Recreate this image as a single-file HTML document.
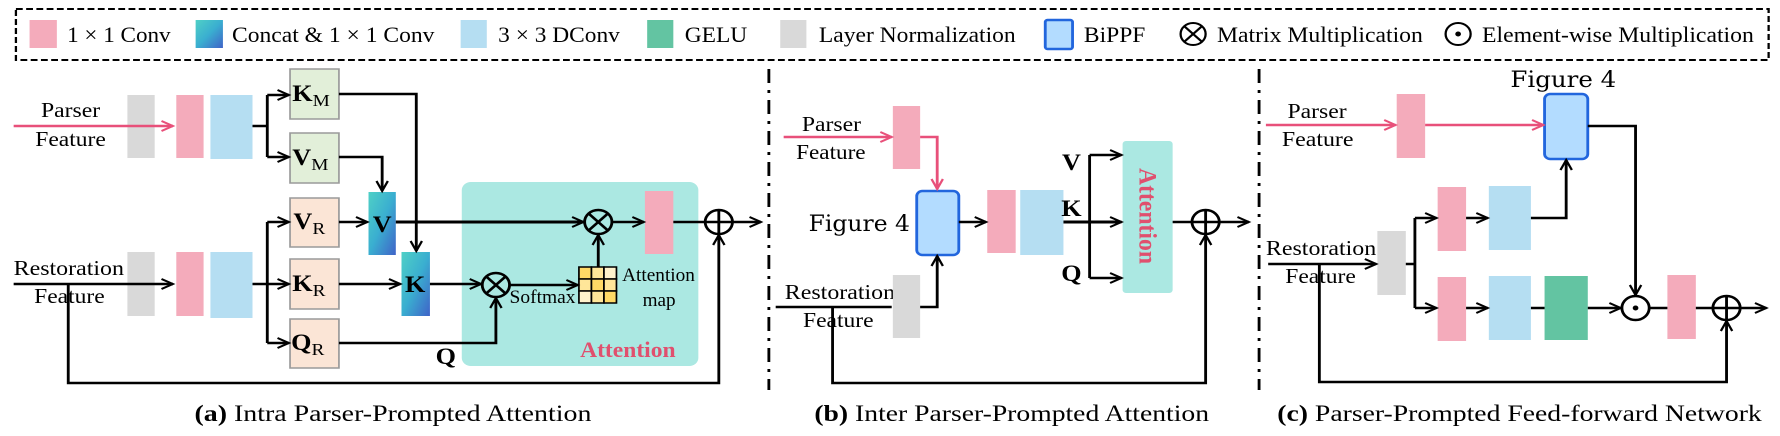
<!DOCTYPE html>
<html><head><meta charset="utf-8"><style>
html,body{margin:0;padding:0;background:#fff;}
svg{display:block;}
text{font-family:"Liberation Serif","Times New Roman",serif;fill:#000;}
</style></head><body>
<svg width="1780" height="436" viewBox="0 0 1565 436" preserveAspectRatio="none" xmlns="http://www.w3.org/2000/svg" font-family="Liberation Serif, serif">
<defs>
<marker id="a" markerUnits="userSpaceOnUse" markerWidth="14" markerHeight="14" refX="11" refY="6" orient="auto"><path d="M1,1 L11,6 L1,11" fill="none" stroke="#000" stroke-width="2"/></marker>
<marker id="p" markerUnits="userSpaceOnUse" markerWidth="14" markerHeight="14" refX="11" refY="6" orient="auto"><path d="M1,1 L11,6 L1,11" fill="none" stroke="#e8507a" stroke-width="2"/></marker>
<linearGradient id="g" x1="0" y1="0" x2="1" y2="1"><stop offset="0" stop-color="#4fd0c6"/><stop offset="0.5" stop-color="#3aaed0"/><stop offset="1" stop-color="#3f63c8"/></linearGradient>
</defs>
<rect x="14" y="9" width="1541" height="51" fill="none" stroke="#000" stroke-width="2" stroke-dasharray="6 3"/>
<!-- legend -->
<g font-size="22" lengthAdjust="spacingAndGlyphs">
<rect x="26" y="20" width="24" height="28" fill="#f4abbb"/>
<text x="59" y="42" font-size="22" textLength="91" lengthAdjust="spacingAndGlyphs">1 × 1 Conv</text>
<rect x="172" y="20" width="24" height="28" fill="url(#g)"/>
<text x="204" y="42" font-size="22" textLength="178" lengthAdjust="spacingAndGlyphs">Concat &amp; 1 × 1 Conv</text>
<rect x="405" y="20" width="23" height="28" fill="#b5def2"/>
<text x="438" y="42" font-size="22" textLength="107" lengthAdjust="spacingAndGlyphs">3 × 3 DConv</text>
<rect x="569" y="20" width="23" height="28" fill="#63c4a2"/>
<text x="602" y="42" font-size="22" textLength="55" lengthAdjust="spacingAndGlyphs">GELU</text>
<rect x="686" y="20" width="23" height="28" fill="#d9d9d9"/>
<text x="720" y="42" font-size="22" textLength="173" lengthAdjust="spacingAndGlyphs">Layer Normalization</text>
<rect x="919" y="20" width="24" height="29" rx="2" fill="#b3dcff" stroke="#2266dd" stroke-width="2.5"/>
<text x="953" y="42" font-size="22" textLength="54" lengthAdjust="spacingAndGlyphs">BiPPF</text>
<text x="1070" y="42" font-size="22" textLength="181" lengthAdjust="spacingAndGlyphs">Matrix Multiplication</text>
<text x="1303" y="42" font-size="22" textLength="239" lengthAdjust="spacingAndGlyphs">Element-wise Multiplication</text>
</g>
<g stroke="#000" stroke-width="2" fill="none"><circle cx="1049" cy="34" r="11"/><path d="M1041,26 L1057,42 M1057,26 L1041,42"/></g>
<g stroke="#000" stroke-width="2" fill="none"><circle cx="1282" cy="34" r="11"/></g><circle cx="1282" cy="34" r="2.5" fill="#000"/>

<!-- dividers -->
<g stroke="#000" stroke-width="2.5" stroke-dasharray="14 7 3 7"><path d="M676,69 V390 M1107,69 V390"/></g>

<!-- Panel a -->
<rect x="406" y="182" width="208" height="184" rx="8" fill="#abe8e2"/>
<g font-size="21">
<text x="36" y="117" font-size="21" textLength="52" lengthAdjust="spacingAndGlyphs">Parser</text>
<text x="31" y="146" font-size="21" textLength="62" lengthAdjust="spacingAndGlyphs">Feature</text>
<text x="12" y="275" font-size="21" textLength="97" lengthAdjust="spacingAndGlyphs">Restoration</text>
<text x="30" y="303" font-size="21" textLength="62" lengthAdjust="spacingAndGlyphs">Feature</text>
</g>
<rect x="112" y="95" width="24" height="63" fill="#d9d9d9"/>
<rect x="155" y="95" width="24" height="63" fill="#f4abbb"/>
<rect x="185" y="95" width="37" height="64" fill="#b5def2"/>
<rect x="112" y="252" width="24" height="64" fill="#d9d9d9"/>
<rect x="155" y="252" width="24" height="64" fill="#f4abbb"/>
<rect x="185" y="252" width="37" height="66" fill="#b5def2"/>
<g stroke="#9a9a9a" stroke-width="1.5">
<rect x="255" y="69" width="43" height="50" fill="#e2efd9"/>
<rect x="255" y="133" width="43" height="50" fill="#e2efd9"/>
<rect x="255" y="198" width="43" height="49" fill="#fbe5d6"/>
<rect x="255" y="259" width="43" height="50" fill="#fbe5d6"/>
<rect x="255" y="319" width="43" height="49" fill="#fbe5d6"/>
</g>
<g font-size="23" font-weight="bold">
<text x="257" y="101">K<tspan font-size="17" font-weight="normal" dy="5">M</tspan></text>
<text x="257" y="165">V<tspan font-size="17" font-weight="normal" dy="5">M</tspan></text>
<text x="258" y="229">V<tspan font-size="17" font-weight="normal" dy="5">R</tspan></text>
<text x="257" y="291">K<tspan font-size="17" font-weight="normal" dy="5">R</tspan></text>
<text x="256" y="350">Q<tspan font-size="17" font-weight="normal" dy="5">R</tspan></text>
</g>
<rect x="324" y="192" width="24" height="63" fill="url(#g)"/>
<rect x="353" y="252" width="25" height="64" fill="url(#g)"/>
<text x="336" y="232" font-size="23" font-weight="bold" text-anchor="middle">V</text>
<text x="365" y="292" font-size="23" font-weight="bold" text-anchor="middle">K</text>
<rect x="567" y="191" width="25" height="63" fill="#f4abbb"/>
<g fill="#ffd966" stroke="#000" stroke-width="1.5">
<rect x="509" y="267" width="11" height="12"/><rect x="520" y="267" width="11" height="12" fill="#ffe699"/><rect x="531" y="267" width="11" height="12" fill="#fff2cc"/>
<rect x="509" y="279" width="11" height="12" fill="#ffe699"/><rect x="520" y="279" width="11" height="12"/><rect x="531" y="279" width="11" height="12" fill="#ffe699"/>
<rect x="509" y="291" width="11" height="12" fill="#fff2cc"/><rect x="520" y="291" width="11" height="12" fill="#ffe699"/><rect x="531" y="291" width="11" height="12"/>
</g>
<g stroke="#e8507a" stroke-width="2.5" fill="none"><path d="M12,126 H152" marker-end="url(#p)"/></g>
<g stroke="#000" stroke-width="2.5" fill="none">
<path d="M12,284 H152" marker-end="url(#a)"/>
<path d="M222,126 H235"/><path d="M235,95 V157"/>
<path d="M235,95 H254" marker-end="url(#a)"/><path d="M235,157 H254" marker-end="url(#a)"/>
<path d="M222,284 H235"/><path d="M235,222 V343"/>
<path d="M235,222 H254" marker-end="url(#a)"/><path d="M235,284 H254" marker-end="url(#a)"/><path d="M235,343 H254" marker-end="url(#a)"/>
<path d="M298,94 H366 V251" marker-end="url(#a)"/>
<path d="M298,157 H336 V191" marker-end="url(#a)"/>
<path d="M298,222 H323" marker-end="url(#a)"/>
<path d="M298,284 H352" marker-end="url(#a)"/>
<path d="M378,284 H423" marker-end="url(#a)"/>
<path d="M298,343 H436 V298" marker-end="url(#a)"/>
<path d="M348,222 H513" stroke-width="3" marker-end="url(#a)"/>
<path d="M448,285 H508" marker-end="url(#a)"/>
<path d="M526,267 V235" marker-end="url(#a)"/>
<path d="M538,222 H566" marker-end="url(#a)"/>
<path d="M592,222 H620"/>
<path d="M644,222 H669" marker-end="url(#a)"/>
<path d="M60,284 V383 H632 V235" marker-end="url(#a)"/>
<circle cx="436" cy="285" r="12"/><path d="M428,277 L444,293 M444,277 L428,293"/>
<circle cx="526" cy="222" r="12"/><path d="M518,214 L534,230 M534,214 L518,230"/>
<circle cx="632" cy="222" r="12"/><path d="M620,222 H644 M632,210 V234"/>
</g>
<text x="448" y="303" font-size="19" textLength="58" lengthAdjust="spacingAndGlyphs">Softmax</text>
<text x="547" y="281" font-size="19" textLength="64" lengthAdjust="spacingAndGlyphs">Attention</text>
<text x="565" y="306" font-size="19" textLength="29" lengthAdjust="spacingAndGlyphs">map</text>
<text x="510" y="357" font-size="22" font-weight="bold" style="fill:#e0506e" textLength="84" lengthAdjust="spacingAndGlyphs">Attention</text>
<text x="392" y="364" font-size="23" font-weight="bold" text-anchor="middle">Q</text>
<text x="171" y="421" font-size="23" textLength="349" lengthAdjust="spacingAndGlyphs"><tspan font-weight="bold">(a)</tspan> Intra Parser-Prompted Attention</text>

<!-- Panel b -->
<text x="705" y="131" font-size="21" textLength="52" lengthAdjust="spacingAndGlyphs">Parser</text>
<text x="700" y="159" font-size="21" textLength="61" lengthAdjust="spacingAndGlyphs">Feature</text>
<text x="690" y="299" font-size="21" textLength="97" lengthAdjust="spacingAndGlyphs">Restoration</text>
<text x="706" y="327" font-size="21" textLength="62" lengthAdjust="spacingAndGlyphs">Feature</text>
<text x="711" y="231" font-size="22" textLength="89" lengthAdjust="spacingAndGlyphs" style="font-family:'DejaVu Serif',serif">Figure 4</text>
<rect x="785" y="106" width="24" height="63" fill="#f4abbb"/>
<rect x="785" y="275" width="24" height="63" fill="#d9d9d9"/>
<rect x="806" y="191" width="37" height="64" rx="5" fill="#b3dcff" stroke="#2266dd" stroke-width="2.5"/>
<rect x="868" y="190" width="25" height="63" fill="#f4abbb"/>
<rect x="897" y="190" width="38" height="65" fill="#b5def2"/>
<rect x="987" y="141" width="44" height="152" rx="3" fill="#abe8e2"/>
<text transform="translate(1002,168) rotate(90)" font-size="22" font-weight="bold" style="fill:#e0506e" textLength="96" lengthAdjust="spacingAndGlyphs">Attention</text>
<g stroke="#e8507a" stroke-width="2.5" fill="none"><path d="M689,137 H784" marker-end="url(#p)"/><path d="M809,137 H824 V189" marker-end="url(#p)"/></g>
<g stroke="#000" stroke-width="2.5" fill="none">
<path d="M682,307 H784"/>
<path d="M809,307 H824 V256" marker-end="url(#a)"/>
<path d="M843,222 H867" marker-end="url(#a)"/>
<path d="M935,222 H986" stroke-width="3" marker-end="url(#a)"/>
<path d="M958,155 V278"/>
<path d="M958,155 H986" marker-end="url(#a)"/><path d="M958,278 H986" marker-end="url(#a)"/>
<path d="M1031,222 H1048"/><path d="M1072,222 H1098" marker-end="url(#a)"/>
<path d="M732,307 V383 H1060 V235" marker-end="url(#a)"/>
<circle cx="1060" cy="222" r="12"/><path d="M1048,222 H1072 M1060,210 V234"/>
</g>
<g font-size="23" font-weight="bold" text-anchor="middle"><text x="942" y="170">V</text><text x="942" y="216">K</text><text x="942" y="281">Q</text></g>
<text x="716" y="421" font-size="23" textLength="347" lengthAdjust="spacingAndGlyphs"><tspan font-weight="bold">(b)</tspan> Inter Parser-Prompted Attention</text>

<!-- Panel c -->
<text x="1328" y="87" font-size="22" textLength="93" lengthAdjust="spacingAndGlyphs" style="font-family:'DejaVu Serif',serif">Figure 4</text>
<text x="1132" y="118" font-size="21" textLength="52" lengthAdjust="spacingAndGlyphs">Parser</text>
<text x="1127" y="146" font-size="21" textLength="63" lengthAdjust="spacingAndGlyphs">Feature</text>
<text x="1113" y="255" font-size="21" textLength="97" lengthAdjust="spacingAndGlyphs">Restoration</text>
<text x="1130" y="283" font-size="21" textLength="62" lengthAdjust="spacingAndGlyphs">Feature</text>
<rect x="1228" y="94" width="25" height="64" fill="#f4abbb"/>
<rect x="1358" y="94" width="38" height="65" rx="5" fill="#b3dcff" stroke="#2266dd" stroke-width="2.5"/>
<rect x="1211" y="231" width="25" height="64" fill="#d9d9d9"/>
<rect x="1264" y="187" width="25" height="64" fill="#f4abbb"/>
<rect x="1309" y="186" width="37" height="64" fill="#b5def2"/>
<rect x="1264" y="277" width="25" height="64" fill="#f4abbb"/>
<rect x="1309" y="276" width="37" height="64" fill="#b5def2"/>
<rect x="1358" y="276" width="38" height="64" fill="#63c4a2"/>
<rect x="1466" y="275" width="25" height="64" fill="#f4abbb"/>
<g stroke="#e8507a" stroke-width="2.5" fill="none"><path d="M1113,125 H1227" marker-end="url(#p)"/><path d="M1253,125 H1357" marker-end="url(#p)"/></g>
<g stroke="#000" stroke-width="2.5" fill="none">
<path d="M1396,126 H1438 V295" marker-end="url(#a)"/>
<path d="M1115,264 H1210" marker-end="url(#a)"/>
<path d="M1236,264 H1244"/><path d="M1244,218 V308"/>
<path d="M1244,218 H1263" marker-end="url(#a)"/><path d="M1244,308 H1263" marker-end="url(#a)"/>
<path d="M1289,218 H1308" marker-end="url(#a)"/><path d="M1289,308 H1308" marker-end="url(#a)"/>
<path d="M1346,218 H1377 V160" marker-end="url(#a)"/>
<path d="M1346,308 H1358"/>
<path d="M1396,308 H1425" marker-end="url(#a)"/>
<path d="M1450,308 H1466"/><path d="M1491,308 H1506"/>
<path d="M1530,308 H1553" marker-end="url(#a)"/>
<path d="M1160,264 V382 H1518 V321" marker-end="url(#a)"/>
<circle cx="1438" cy="308" r="12"/>
<circle cx="1518" cy="308" r="12"/><path d="M1506,308 H1530 M1518,296 V320"/>
</g>
<circle cx="1438" cy="308" r="2.5" fill="#000"/>
<text x="1123" y="421" font-size="23" textLength="426" lengthAdjust="spacingAndGlyphs"><tspan font-weight="bold">(c)</tspan> Parser-Prompted Feed-forward Network</text>
</svg>
</body></html>
